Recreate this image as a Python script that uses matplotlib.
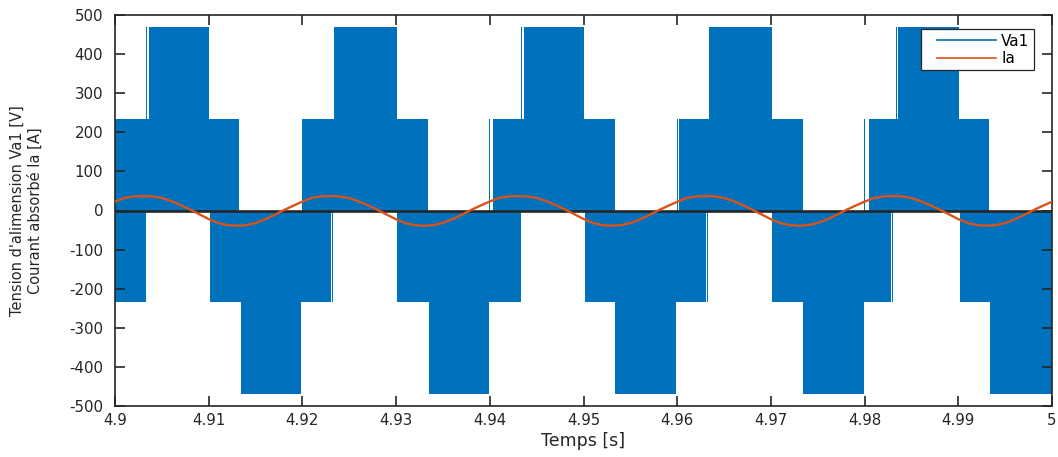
import numpy as np
import matplotlib
matplotlib.use("Agg")
import matplotlib.pyplot as plt
from matplotlib.lines import Line2D
from matplotlib.legend_handler import HandlerLine2D
from matplotlib.ticker import MultipleLocator, FuncFormatter

# Phase voltage Va1: envelope of the PWM switching (step levels, value holds until next time)
va_upper_t = [4.9, 4.90328, 4.90345, 4.90362, 4.91003, 4.91327, 4.91999, 4.92340,
              4.93006, 4.93337, 4.93991, 4.94002, 4.94037, 4.94333, 4.94344, 4.94365,
              4.95005, 4.95333, 4.95994, 4.96005, 4.96019, 4.96340, 4.97009, 4.97339,
              4.97997, 4.98007, 4.98043, 4.98335, 4.98346, 4.98359, 4.99004, 4.99331, 5.0]
va_upper_v = [235, 470, 235, 470, 235, 0, 235, 470,
              235, 0, 235, 0, 235, 470, 235, 470,
              235, 0, 235, 0, 235, 470, 235, 0,
              235, 0, 235, 470, 235, 470, 235, 0, 0]

va_lower_t = [4.9, 4.90328, 4.91014, 4.91348, 4.91985, 4.92302, 4.92319, 4.92330,
              4.93013, 4.93356, 4.93991, 4.94330, 4.95016, 4.95336, 4.95987, 4.96307,
              4.96318, 4.96329, 4.97015, 4.97342, 4.97994, 4.98278, 4.98295, 4.98306,
              4.99018, 4.99338, 5.0]
va_lower_v = [-235, 0, -235, -470, -235, 0, -235, 0,
              -235, -470, -235, 0, -235, -470, -235, 0,
              -235, 0, -235, -470, -235, 0, -235, 0,
              -235, -470, -470]

# Phase current Ia, sampled every millisecond from 4.900 s to 5.000 s
ia_t0 = 4.9
ia_dt = 0.001
ia_values = [
    22.5, 32.0, 36.0, 37.0, 36.0, 32.0, 24.0, 14.0, 2.6, -9.6,
    -22.0, -32.0, -37.5, -39.0, -37.5, -32.0, -22.8, -11.6, 0.8, 11.9,
    22.8, 32.2, 36.2, 37.1, 35.8, 31.6, 23.5, 13.2, 1.8, -10.4,
    -22.6, -32.3, -37.6, -39.1, -37.3, -31.6, -22.2, -10.9, 1.4, 12.5,
    23.0, 32.4, 36.1, 36.9, 35.9, 32.2, 24.3, 14.3, 2.9, -9.2,
    -21.7, -31.8, -37.3, -38.9, -37.6, -32.2, -23.1, -11.9, 0.5, 11.6,
    22.3, 31.8, 35.9, 37.0, 36.1, 32.1, 24.1, 13.8, 2.2, -10.0,
    -22.3, -32.1, -37.5, -39.0, -37.4, -31.9, -22.6, -11.3, 1.0, 12.1,
    22.6, 32.1, 36.0, 37.1, 35.9, 31.9, 23.8, 13.6, 2.4, -9.8,
    -22.1, -32.0, -37.4, -39.0, -37.5, -32.1, -22.9, -11.7, 0.7, 11.8,
    22.5,
]

x_ticks_step = 0.01
y_ticks_step = 100
labels = ["Va1", "Ia"]

BLUE = "#0072BD"
ORANGE = "#D95319"
DARK = "#262626"

plt.rcParams["font.family"] = ["DejaVu Sans"]

fig = plt.figure(figsize=(10.58, 4.57), dpi=100)
ax = fig.add_axes([115 / 1058, 1 - 406 / 457, 937 / 1058, 391 / 457])

# Merge both envelopes on a common time grid and fill between them
t_up = np.asarray(va_upper_t)
t_lo = np.asarray(va_lower_t)
grid = np.union1d(t_up, t_lo)
upper = np.asarray(va_upper_v)[np.searchsorted(t_up, grid, side="right") - 1]
lower = np.asarray(va_lower_v)[np.searchsorted(t_lo, grid, side="right") - 1]
ax.fill_between(grid, lower, upper, step="post", color=BLUE, linewidth=0, zorder=1)

# Zero reference line
ax.axhline(0, color=DARK, linewidth=1.9, zorder=2)

# Current
ia = np.asarray(ia_values)
t_ia = ia_t0 + ia_dt * np.arange(ia.size)
ia_line, = ax.plot(t_ia, ia, color=ORANGE, linewidth=1.7, zorder=3)

ax.set_xlim(4.9, 5.0)
ax.set_ylim(-500, 500)
ax.xaxis.set_major_locator(MultipleLocator(x_ticks_step))
ax.yaxis.set_major_locator(MultipleLocator(y_ticks_step))
ax.xaxis.set_major_formatter(FuncFormatter(lambda v, p: f"{v:.2f}".rstrip("0").rstrip(".")))
ax.yaxis.set_major_formatter(FuncFormatter(lambda v, p: f"{v:g}"))

ax.tick_params(axis="both", direction="in", length=7, width=1.2, top=True, right=True,
               colors=DARK, labelsize=10.8)
ax.tick_params(axis="y", pad=8.5)
ax.tick_params(axis="x", pad=5)
for s in ax.spines.values():
    s.set_linewidth(1.2)
    s.set_color(DARK)

ax.set_ylabel("Tension d'alimension Va1 [V]\nCourant absorbé Ia [A]",
              fontsize=10.5, color=DARK, linespacing=1.25)
ax.yaxis.set_label_coords(-0.077, 0.5)
ax.set_xlabel("Temps [s]", fontsize=12.5, color=DARK)
ax.xaxis.set_label_coords(0.5, -0.066)
ax.xaxis.label.set_va("top")

handles = [Line2D([0], [0], color=BLUE, linewidth=1.2), Line2D([0], [0], color=ORANGE, linewidth=1.2)]
leg = ax.legend(handles, labels, loc="upper right", bbox_to_anchor=(0.9808, 0.9642),
                borderaxespad=0, fancybox=False, framealpha=1, edgecolor=DARK,
                fontsize=11, handlelength=4.58, handletextpad=0.37, borderpad=0.3,
                labelspacing=0.15,
                handler_map={h: HandlerLine2D(xpad=0.77) for h in handles})
leg.get_frame().set_linewidth(0.9)
leg.set_zorder(5)

fig.savefig("out.png", dpi=100)
